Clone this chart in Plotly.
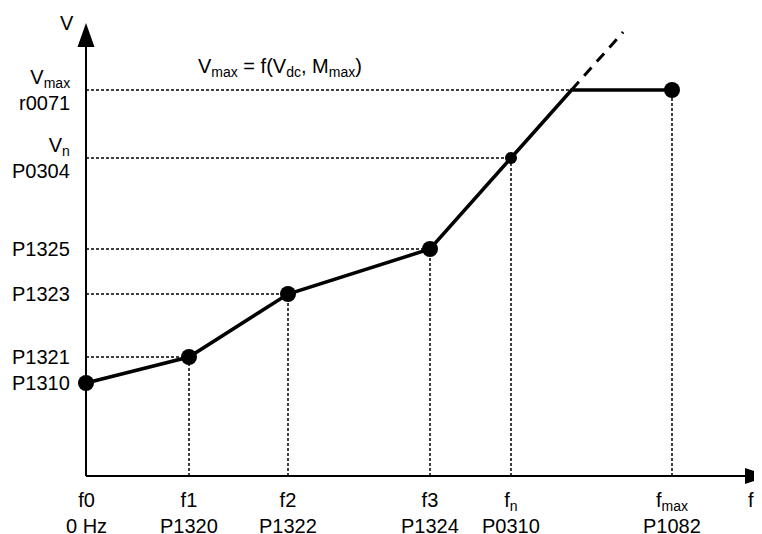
import plotly.graph_objects as go

# ---- data (arbitrary units) ----
x_names = ["f0<br>0 Hz", "f1<br>P1320", "f2<br>P1322", "f3<br>P1324",
           "f<sub>n</sub><br>P0310", "f<sub>max</sub><br>P1082"]
freq = [0.0, 10.3, 20.2, 34.4, 42.5, 58.6]          # f0, f1, f2, f3, fn, fmax
y_names = ["P1310", "P1321", "P1323", "P1325", "V<sub>n</sub><br>P0304",
           "V<sub>max</sub><br>r0071"]
volt = [9.3, 11.9, 18.2, 22.7, 31.8, 38.6]           # P1310, P1321, P1323, P1325, Vn, Vmax
formula = "V<sub>max</sub> = f(V<sub>dc</sub>, M<sub>max</sub>)"
ext_top = 44.4   # dashed extension end (voltage)

# axis extents (page has an 8px body margin, so the figure is 754x526)
X0, X1 = -7.8, 67.6
Y0, Y1 = -5.8, 46.8
FONT = "Liberation Sans, Arial, sans-serif"

# derived: corner where the V/f line meets Vmax
slope = (volt[4] - volt[3]) / (freq[4] - freq[3])
f_corner = freq[4] + (volt[5] - volt[4]) / slope
f_ext = freq[4] + (ext_top - volt[4]) / slope

fig = go.Figure()

shapes = []
dot = dict(color="black", width=1.5, dash="3px,2px")
# horizontal dotted guides
h_targets = [freq[1], freq[2], freq[3], freq[4], f_corner]
for fx, vy in zip(h_targets, volt[1:]):
    shapes.append(dict(type="line", xref="x", yref="y", x0=0, x1=fx, y0=vy, y1=vy,
                       line=dot, layer="below"))
# vertical dotted guides
v_targets = [volt[1], volt[2], volt[3], volt[4], volt[5]]
for fx, vy in zip(freq[1:], v_targets):
    shapes.append(dict(type="line", xref="x", yref="y", x0=fx, x1=fx, y0=0, y1=vy,
                       line=dot, layer="below"))

# axes
shapes.append(dict(type="line", x0=0, x1=0, y0=0, y1=43.0, line=dict(color="black", width=2)))
shapes.append(dict(type="line", x0=0, x1=66.0, y0=0, y1=0, line=dict(color="black", width=2)))
# arrowheads
shapes.append(dict(type="path", path="M -0.85 42.9 L 0.85 42.9 L 0 45.3 Z",
                   fillcolor="black", line=dict(color="black", width=0)))
shapes.append(dict(type="path", path="M 65.9 0.8 L 65.9 -0.8 L 68.3 0 Z",
                   fillcolor="black", line=dict(color="black", width=0)))

# dashed extension
fig.add_trace(go.Scatter(x=[f_corner, f_ext], y=[volt[5], ext_top], mode="lines",
                         line=dict(color="black", width=3, dash="11px,8px"),
                         hoverinfo="skip", showlegend=False))
# main curve
fig.add_trace(go.Scatter(x=freq[:5] + [f_corner, freq[5]],
                         y=volt[:5] + [volt[5], volt[5]], mode="lines",
                         line=dict(color="black", width=3.5),
                         hoverinfo="skip", showlegend=False))
# markers
big_idx = [0, 1, 2, 3, 5]
fig.add_trace(go.Scatter(x=[freq[i] for i in big_idx], y=[volt[i] for i in big_idx],
                         mode="markers", marker=dict(color="black", size=16),
                         hoverinfo="skip", showlegend=False))
fig.add_trace(go.Scatter(x=[freq[4]], y=[volt[4]], mode="markers",
                         marker=dict(color="black", size=12),
                         hoverinfo="skip", showlegend=False))

ann = []
for fx, t in zip(freq, x_names):
    ann.append(dict(x=fx, y=-3.7, text=t, showarrow=False, xanchor="center",
                    yanchor="middle", font=dict(size=20, color="black", family=FONT)))
for vy, t in zip(volt, y_names):
    ann.append(dict(x=-1.4, y=vy, text=t, showarrow=False, xanchor="right",
                    yanchor="middle", align="right",
                    font=dict(size=20, color="black", family=FONT)))
ann.append(dict(x=-1.9, y=45.3, text="V", showarrow=False, xanchor="center", yanchor="middle",
                font=dict(size=20, color="black", family=FONT)))
ann.append(dict(x=66.5, y=-2.4, text="f", showarrow=False, xanchor="center", yanchor="middle",
                font=dict(size=20, color="black", family=FONT)))
ann.append(dict(x=19.4, y=40.9, text=formula, showarrow=False, xanchor="center", yanchor="middle",
                font=dict(size=20, color="black", family=FONT)))

fig.update_layout(
    width=754, height=526,
    margin=dict(l=0, r=0, t=0, b=0),
    paper_bgcolor="white", plot_bgcolor="white",
    xaxis=dict(range=[X0, X1], visible=False, fixedrange=True),
    yaxis=dict(range=[Y0, Y1], visible=False, fixedrange=True),
    shapes=shapes, annotations=ann, showlegend=False,
)
fig.write_html("out.html")
